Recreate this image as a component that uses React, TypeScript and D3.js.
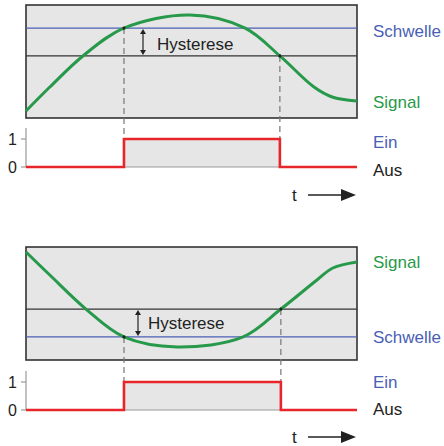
import React from "react";
import * as d3 from "d3";

// ---- data ----
const timeDomain = [0, 10];
const levelDomain = [0, 10];
const digitalTicks = [0, 1];

// top panel: rising signal, switches on above "Schwelle", off below lower line
const topSignalT = [0, 0.72, 1.72, 2.96, 4.95, 6.62, 7.67, 8.7, 9.25, 10];
const topSignalV = [0.62, 2.74, 5.49, 7.96, 9.12, 7.96, 5.49, 2.74, 1.86, 1.5];
const topSchwelle = 7.96;
const topLower = 5.49;
const topSwitchT = [2.96, 7.67];

// bottom panel: falling signal, switches on below "Schwelle", off above upper line
const botSignalT = [0, 0.72, 1.81, 2.96, 4.56, 6.56, 7.7, 8.79, 9.27, 10];
const botSignalV = [9.56, 7.52, 4.51, 2.04, 1.15, 2.04, 4.51, 7.08, 8.14, 8.67];
const botSchwelle = 2.04;
const botUpper = 4.51;
const botSwitchT = [2.96, 7.7];

const labelSchwelle = "Schwelle";
const labelSignal = "Signal";
const labelHyst = "Hysterese";
const labelEin = "Ein";
const labelAus = "Aus";
const labelT = "t";

const FONT = "Liberation Sans, Arial, sans-serif";
const GREEN = "#27994a";
const BLUE = "#4a5fb4";
const RED = "#e8252b";
const FILL = "#e6e6e6";
const FS = 17;

const x = d3.scaleLinear().domain(timeDomain).range([26, 357]);

function DoubleArrow({ x0, y0, y1 }: { x0: number; y0: number; y1: number }) {
  const h = 5, w = 3;
  return (
    <g>
      <line x1={x0} x2={x0} y1={y0 + 2} y2={y1 - 2} stroke="#222" strokeWidth={1.2} />
      <path d={`M${x0},${y0} L${x0 - w},${y0 + h} L${x0 + w},${y0 + h} Z`} fill="#222" />
      <path d={`M${x0},${y1} L${x0 - w},${y1 - h} L${x0 + w},${y1 - h} Z`} fill="#222" />
    </g>
  );
}

function Panel(props: {
  boxTop: number; boxBottom: number; dLow: number; dHigh: number; axisTop: number;
  sigT: number[]; sigV: number[]; schwelle: number; other: number; sw: number[];
  onLevel: number; offLevel: number; arrowX: number; hystX: number; hystY: number;
  schwelleY: number; signalY: number; einY: number; ausY: number; tY: number; arrowY: number;
}) {
  const p = props;
  const ys = d3.scaleLinear().domain(levelDomain).range([p.boxBottom, p.boxTop]);
  const yd = d3.scaleLinear().domain([0, 1]).range([p.dLow, p.dHigh]);
  const [x0, x1] = x.range();
  const pts = p.sigT.map((t, i) => [t, p.sigV[i]] as [number, number]);
  const sigPath = d3.line<[number, number]>()
    .x((d) => x(d[0])).y((d) => ys(d[1]))
    .curve(d3.curveCatmullRom.alpha(0.5))(pts) || "";
  const digT = [timeDomain[0], p.sw[0], p.sw[1], timeDomain[1]];
  const digV = [0, 1, 0, 0];
  const digPath = d3.line<number>()
    .x((d) => x(d)).y((_, i) => yd(digV[i]))
    .curve(d3.curveStepAfter)(digT) || "";
  const yOn = ys(p.onLevel);
  const yOff = ys(p.offLevel);
  const lo = Math.min(ys(p.schwelle), ys(p.other));
  const hi = Math.max(ys(p.schwelle), ys(p.other));
  return (
    <g>
      <rect x={x0} y={p.boxTop} width={x1 - x0} height={p.boxBottom - p.boxTop}
        fill={FILL} stroke="#333" strokeWidth={1.6} />
      <line x1={x0} x2={x1} y1={ys(p.schwelle)} y2={ys(p.schwelle)} stroke={BLUE} strokeWidth={1.3} />
      <line x1={x0} x2={x1} y1={ys(p.other)} y2={ys(p.other)} stroke="#333" strokeWidth={1.3} />
      {/* digital shading */}
      <rect x={x(p.sw[0])} y={yd(1)} width={x(p.sw[1]) - x(p.sw[0])} height={yd(0) - yd(1)} fill={FILL} />
      <line x1={x(p.sw[0])} x2={x(p.sw[0])} y1={yOn} y2={yd(0)} stroke="#777" strokeWidth={1.2} strokeDasharray="6,4" />
      <line x1={x(p.sw[1])} x2={x(p.sw[1])} y1={yOff} y2={yd(0)} stroke="#777" strokeWidth={1.2} strokeDasharray="6,4" />
      <path d={sigPath} fill="none" stroke={GREEN} strokeWidth={3} />
      <circle cx={x(p.sw[0])} cy={yOn} r={1.6} fill="#222" />
      <circle cx={x(p.sw[1])} cy={yOff} r={1.6} fill="#222" />
      <DoubleArrow x0={p.arrowX} y0={lo + 1} y1={hi - 1} />
      <text x={p.hystX} y={p.hystY} fontSize={FS} fill="#222" fontFamily={FONT}>{labelHyst}</text>
      {/* digital axis */}
      <line x1={x0} x2={x0} y1={p.axisTop} y2={yd(0)} stroke="#999" strokeWidth={1.2} />
      <line x1={x0} x2={x1} y1={yd(0)} y2={yd(0)} stroke="#999" strokeWidth={1.2} />
      {digitalTicks.map((v) => (
        <g key={v}>
          <line x1={x0 - 5} x2={x0} y1={yd(v)} y2={yd(v)} stroke="#999" strokeWidth={1.2} />
          <text x={x0 - 9} y={yd(v)} dy="0.36em" textAnchor="end" fontSize={16} fill="#222" fontFamily={FONT}>{v}</text>
        </g>
      ))}
      <path d={digPath} fill="none" stroke={RED} strokeWidth={2.6} />
      {/* labels */}
      <text x={373} y={p.schwelleY} fontSize={FS} fill={BLUE} fontFamily={FONT}>{labelSchwelle}</text>
      <text x={373} y={p.signalY} fontSize={FS} fill={GREEN} fontFamily={FONT}>{labelSignal}</text>
      <text x={373} y={p.einY} fontSize={FS} fill={BLUE} fontFamily={FONT}>{labelEin}</text>
      <text x={373} y={p.ausY} fontSize={FS} fill="#222" fontFamily={FONT}>{labelAus}</text>
      <text x={292} y={p.tY} fontSize={FS} fill="#222" fontFamily={FONT}>{labelT}</text>
      <line x1={308} x2={344} y1={p.arrowY} y2={p.arrowY} stroke="#222" strokeWidth={1.6} />
      <path d={`M356,${p.arrowY} L341,${p.arrowY - 6} L341,${p.arrowY + 6} Z`} fill="#222" />
    </g>
  );
}

export default function App() {
  return (
    <svg width={444} height={446} style={{ position: "absolute", left: 0, top: 0, background: "#fff" }}>
      <Panel boxTop={5} boxBottom={118} dLow={167} dHigh={139} axisTop={128}
        sigT={topSignalT} sigV={topSignalV} schwelle={topSchwelle} other={topLower}
        sw={topSwitchT} onLevel={topSchwelle} offLevel={topLower}
        arrowX={143} hystX={157} hystY={49.5}
        schwelleY={37} signalY={108} einY={148} ausY={176} tY={201} arrowY={195} />
      <Panel boxTop={247} boxBottom={360} dLow={410} dHigh={382} axisTop={371}
        sigT={botSignalT} sigV={botSignalV} schwelle={botSchwelle} other={botUpper}
        sw={botSwitchT} onLevel={botSchwelle} offLevel={botUpper}
        arrowX={138} hystX={148} hystY={329}
        schwelleY={343} signalY={268} einY={388} ausY={415} tY={443} arrowY={437} />
    </svg>
  );
}
